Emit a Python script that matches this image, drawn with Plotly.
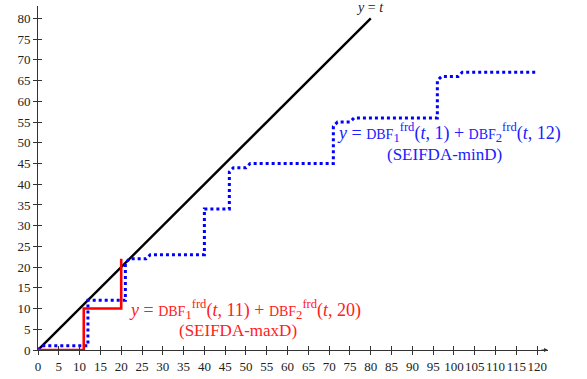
import plotly.graph_objects as go

# ---------------- data ----------------
diag_t = [0, 80]
diag_y = [0, 80]

maxd_t = [0, 11, 11, 20, 20]
maxd_y = [0, 0, 10, 10, 22]

mind_t = [0, 1, 12, 12, 21, 21, 22, 26, 27, 40, 40, 46, 46, 47, 50, 51,
          71, 71, 72, 75, 76, 96, 96, 97, 101, 102, 120]
mind_y = [0, 1, 1, 12, 12, 21, 22, 22, 23, 23, 34, 34, 43, 44, 44, 45,
          45, 54, 55, 55, 56, 56, 65, 66, 66, 67, 67]

x_ticks = list(range(0, 121, 5))
y_ticks = list(range(0, 81, 5))

X_MAX = 122.6
Y_MAX = 83

FONT = "Liberation Serif"
AX = "#333333"

fig = go.Figure()

fig.add_trace(go.Scatter(x=diag_t, y=diag_y, mode="lines",
                         line=dict(color="black", width=2.4),
                         showlegend=False, cliponaxis=False))
fig.add_trace(go.Scatter(x=mind_t, y=mind_y, mode="lines",
                         line=dict(color="#0000ff", width=3, dash="3px,3px"),
                         showlegend=False, cliponaxis=False))
fig.add_trace(go.Scatter(x=maxd_t, y=maxd_y, mode="lines",
                         line=dict(color="#ff0000", width=2.6),
                         showlegend=False, cliponaxis=False))

axis_common = dict(showgrid=False, zeroline=False, showline=True,
                   linecolor=AX, linewidth=1, tickcolor=AX, ticklen=4,
                   tickwidth=1, tickangle=0, automargin=False,
                   tickfont=dict(family=FONT, size=13, color="#222"))

fig.update_layout(
    width=587, height=379,
    margin=dict(l=38, r=39, t=6, b=29),
    plot_bgcolor="white", paper_bgcolor="white",
    xaxis=dict(range=[0, X_MAX], tickmode="array", tickvals=x_ticks,
               ticks="outside", **axis_common),
    yaxis=dict(range=[0, Y_MAX], tickmode="array", tickvals=y_ticks,
               ticks="outside", **axis_common),
    xaxis2=dict(range=[0, X_MAX], overlaying="x", tickmode="array",
                tickvals=x_ticks, ticks="inside", showticklabels=False,
                showgrid=False, zeroline=False, showline=False,
                tickcolor=AX, ticklen=4, anchor="y", automargin=False),
    yaxis2=dict(range=[0, Y_MAX], overlaying="y", tickmode="array",
                tickvals=y_ticks, ticks="inside", showticklabels=False,
                showgrid=False, zeroline=False, showline=False,
                tickcolor=AX, ticklen=4, anchor="x", automargin=False),
)
# invisible trace to activate overlay axes
fig.add_trace(go.Scatter(x=[0], y=[0], xaxis="x2", yaxis="y2", mode="markers",
                         marker=dict(opacity=0), showlegend=False, hoverinfo="skip"))

dbf = "<span style='font-size:14px'>DBF</span>"

ann = []
# axis arrows
ann.append(dict(x=X_MAX, y=0, xref="x", yref="y", ax=-8, ay=0, text="",
                showarrow=True, arrowhead=2, arrowsize=0.8, arrowwidth=1,
                arrowcolor=AX))
ann.append(dict(x=0, y=Y_MAX + 0.4, xref="x", yref="y", ax=0, ay=8, text="",
                showarrow=True, arrowhead=2, arrowsize=0.8, arrowwidth=1,
                arrowcolor=AX))
ann.append(dict(x=X_MAX + 1.0, y=0, xref="x", yref="y", xanchor="left",
                yanchor="middle", text="<i>t</i>", showarrow=False,
                font=dict(family=FONT, size=15, color="#222")))
ann.append(dict(x=79.8, y=82.7, xref="x", yref="y", xanchor="center",
                yanchor="middle", text="<i>y</i> = <i>t</i>", showarrow=False,
                font=dict(family=FONT, size=14, color="#222")))
# red label
ann.append(dict(x=21.3, y=9.8, xref="x", yref="y", xanchor="left",
                yanchor="middle",
                text="<i>y</i> = " + dbf + "<sub>1</sub><sup>frd</sup>(<i>t</i>, 11) + "
                     + dbf + "<sub>2</sub><sup>frd</sup>(<i>t</i>, 20)",
                showarrow=False, font=dict(family=FONT, size=18, color="#ff2020")))
ann.append(dict(x=48.0, y=4.8, xref="x", yref="y", xanchor="center",
                yanchor="middle", text="(SEIFDA-maxD)", showarrow=False,
                font=dict(family=FONT, size=17, color="#ff2020")))
# blue label
ann.append(dict(x=71.3, y=52.5, xref="x", yref="y", xanchor="left",
                yanchor="middle",
                text="<i>y</i> = " + dbf + "<sub>1</sub><sup>frd</sup>(<i>t</i>, 1) + "
                     + dbf + "<sub>2</sub><sup>frd</sup>(<i>t</i>, 12)",
                showarrow=False, font=dict(family=FONT, size=18, color="#2020ff")))
ann.append(dict(x=97.6, y=47.1, xref="x", yref="y", xanchor="center",
                yanchor="middle", text="(SEIFDA-minD)", showarrow=False,
                font=dict(family=FONT, size=17, color="#2020ff")))

fig.update_layout(annotations=ann)

fig.write_html("out.html")
